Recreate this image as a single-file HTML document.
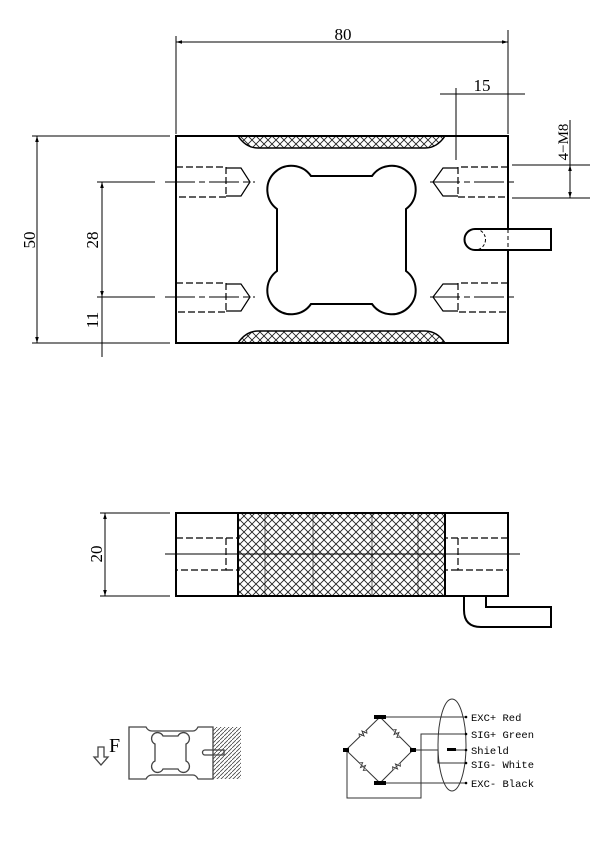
<!DOCTYPE html>
<html><head><meta charset="utf-8"><style>html,body{margin:0;padding:0;background:#fff}svg{display:block}</style></head><body>
<svg width="600" height="847" viewBox="0 0 600 847" xmlns="http://www.w3.org/2000/svg" font-family="Liberation Serif, serif">
<defs>
<pattern id="x" width="8" height="8" patternUnits="userSpaceOnUse">
<path d="M0 0L8 8M8 0L0 8" stroke="#222" stroke-width="0.9"/>
</pattern>
<pattern id="d" width="4" height="4" patternUnits="userSpaceOnUse">
<path d="M0 4L4 0" stroke="#444" stroke-width="0.8"/>
</pattern>
<marker id="a" viewBox="0 0 10 10" refX="10" refY="5" markerWidth="6" markerHeight="6" orient="auto-start-reverse"><path d="M0 2L10 5L0 8z" fill="#000"/></marker>
</defs>
<g fill="none" stroke="#000" stroke-width="1">
<line x1="176" y1="36" x2="176" y2="134"/><line x1="508" y1="30" x2="508" y2="134"/>
<line x1="176" y1="42" x2="508" y2="42" marker-start="url(#a)" marker-end="url(#a)"/>
<line x1="440" y1="94" x2="525" y2="94"/>
<line x1="456" y1="88" x2="456" y2="160"/>
<line x1="32" y1="136" x2="170" y2="136"/><line x1="32" y1="343" x2="170" y2="343"/>
<line x1="37" y1="136" x2="37" y2="343" marker-start="url(#a)" marker-end="url(#a)"/>
<line x1="97" y1="182" x2="155" y2="182"/><line x1="97" y1="297" x2="155" y2="297"/>
<line x1="102" y1="182" x2="102" y2="297" marker-start="url(#a)" marker-end="url(#a)"/>
<line x1="102" y1="297" x2="102" y2="357"/>
<line x1="512" y1="165" x2="590" y2="165"/><line x1="512" y1="198" x2="590" y2="198"/>
<line x1="570" y1="120" x2="570" y2="198" marker-end="url(#a)"/>
<line x1="570" y1="165" x2="570" y2="175" marker-start="url(#a)"/>
</g>
<g font-size="17" fill="#000">
<text x="343" y="40" text-anchor="middle">80</text>
<text x="482" y="91" text-anchor="middle">15</text>
<text transform="translate(35,240) rotate(-90)" text-anchor="middle">50</text>
<text transform="translate(98,240) rotate(-90)" text-anchor="middle">28</text>
<text transform="translate(98,320) rotate(-90)" text-anchor="middle">11</text>
<text transform="translate(568,142) rotate(-90)" text-anchor="middle" font-size="15">4−M8</text>
<text transform="translate(102,554) rotate(-90)" text-anchor="middle">20</text>
</g>
<g stroke="#000" fill="none">
<path d="M238 136 Q246 148 258 148 L425 148 Q437 148 445 136Z" fill="url(#x)" stroke-width="1.5"/>
<path d="M238 343 Q246 331 258 331 L425 331 Q437 331 445 343Z" fill="url(#x)" stroke-width="1.5"/>
<rect x="176" y="136" width="332" height="207" stroke-width="2"/>
<path d="M311 176 L372 176 A24 24 0 1 1 406 209 L406 271 A24 24 0 1 1 372 304 L311 304 A24 24 0 1 1 277 271 L277 209 A24 24 0 1 1 311 176Z" stroke-width="2"/>
<g stroke-dasharray="7 3" stroke-width="1.2">
<path d="M176 167H226V197H176"/><path d="M176 283H226V312H176"/>
<path d="M508 167H458V197H508"/><path d="M508 283H458V312H508"/>
</g>
<g stroke-width="1.2">
<path d="M226 168H241L250 182L241 196H226"/><path d="M226 284H241L250 297L241 311H226"/>
<path d="M458 168H443L433 182L443 196H458"/><path d="M458 284H443L433 297L443 311H458"/>
</g>
<g stroke-dasharray="30 4 6 4" stroke-width="1">
<line x1="165" y1="182" x2="255" y2="182"/><line x1="165" y1="297" x2="255" y2="297"/>
<line x1="430" y1="182" x2="518" y2="182"/><line x1="430" y1="297" x2="518" y2="297"/>
</g>
<path d="M475 229H551V250H475A10.5 10.5 0 0 1 475 229Z" stroke-width="2" fill="#fff"/>
<line x1="508" y1="229" x2="508" y2="250" stroke-dasharray="4 3"/>
<circle cx="475" cy="239.5" r="10.5" stroke-dasharray="3 2"/>
</g>
<g stroke="#000" fill="none">
<line x1="100" y1="513" x2="170" y2="513"/><line x1="100" y1="596" x2="170" y2="596"/>
<line x1="105" y1="513" x2="105" y2="596" marker-start="url(#a)" marker-end="url(#a)"/>
<rect x="238" y="513" width="207" height="83" fill="url(#x)"/>
<rect x="176" y="513" width="332" height="83" stroke-width="2"/>
<line x1="238" y1="513" x2="238" y2="596" stroke-width="2"/><line x1="445" y1="513" x2="445" y2="596" stroke-width="2"/>
<g stroke-dasharray="7 3" stroke-width="1.2">
<path d="M176 538H226V570H176"/><path d="M226 538H240M226 570H240"/>
<path d="M508 538H458V570H508"/><path d="M458 538H444M458 570H444"/>
</g>
<line x1="165" y1="554" x2="520" y2="554"/>
<line x1="265" y1="513" x2="265" y2="596" stroke-width="0.6"/><line x1="313" y1="513" x2="313" y2="596" stroke-width="0.6"/><line x1="372" y1="513" x2="372" y2="596" stroke-width="0.6"/><line x1="418" y1="513" x2="418" y2="596" stroke-width="0.6"/>
<path d="M464 596V610Q464 627 481 627H551V607H486V596" stroke-width="2"/>
</g>
<g stroke="#444" fill="none" stroke-width="1.3">
<rect x="213" y="727" width="28" height="52" fill="url(#d)" stroke="none"/>
<path d="M129 727H146Q148 731 152 731H193Q196 731 198 727H213V779H198Q196 775 193 775H152Q148 775 146 779H129Z"/>
<path d="M163 736H178A6 6 0 1 1 186 744V761A6 6 0 1 1 178 769H163A6 6 0 1 1 155 761V744A6 6 0 1 1 163 736Z"/>
<path d="M205 750H224V755H205A2.5 2.5 0 0 1 205 750Z"/>
<path d="M98 747H104V757H108L101 765L94 757H98Z"/>
</g>
<text x="109" y="752" font-size="20">F</text>
<g stroke="#333" fill="none" stroke-width="1">
<path d="M380 717L346 750L380 783L413 750Z"/>
<path d="M380 717H465M380 783H465"/>
<path d="M465 734H421V798H347V750"/>
<path d="M413 750H438V763H465"/>
<path d="M455 750H465"/>
<ellipse cx="452" cy="745" rx="14" ry="46"/>
<g stroke-width="0.9">
<path d="M-5 0L-3 -2.5L-1 2.5L1 -2.5L3 2.5L5 0" transform="translate(363,733.5) rotate(-45)" stroke="#333" fill="#fff"/>
<path d="M-5 0L-3 -2.5L-1 2.5L1 -2.5L3 2.5L5 0" transform="translate(396.5,733.5) rotate(45)" fill="#fff"/>
<path d="M-5 0L-3 -2.5L-1 2.5L1 -2.5L3 2.5L5 0" transform="translate(363,766.5) rotate(45)" fill="#fff"/>
<path d="M-5 0L-3 -2.5L-1 2.5L1 -2.5L3 2.5L5 0" transform="translate(396.5,766.5) rotate(-45)" fill="#fff"/>
</g>
</g>
<g fill="#000">
<rect x="374" y="715" width="12" height="4"/><rect x="374" y="781" width="12" height="4"/>
<rect x="343" y="748" width="6" height="4"/><rect x="410" y="748" width="6" height="4"/>
<rect x="447" y="748" width="9" height="3"/>
<circle cx="466" cy="717" r="1.3"/><circle cx="466" cy="734" r="1.3"/><circle cx="466" cy="750" r="1.3"/><circle cx="466" cy="763" r="1.3"/><circle cx="466" cy="783" r="1.3"/>
</g>
<g font-family="Liberation Mono, monospace" font-size="10.5" fill="#000">
<text x="471" y="721">EXC+ Red</text>
<text x="471" y="738">SIG+ Green</text>
<text x="471" y="754">Shield</text>
<text x="471" y="768">SIG- White</text>
<text x="471" y="787">EXC- Black</text>
</g>
</svg>
</body></html>
